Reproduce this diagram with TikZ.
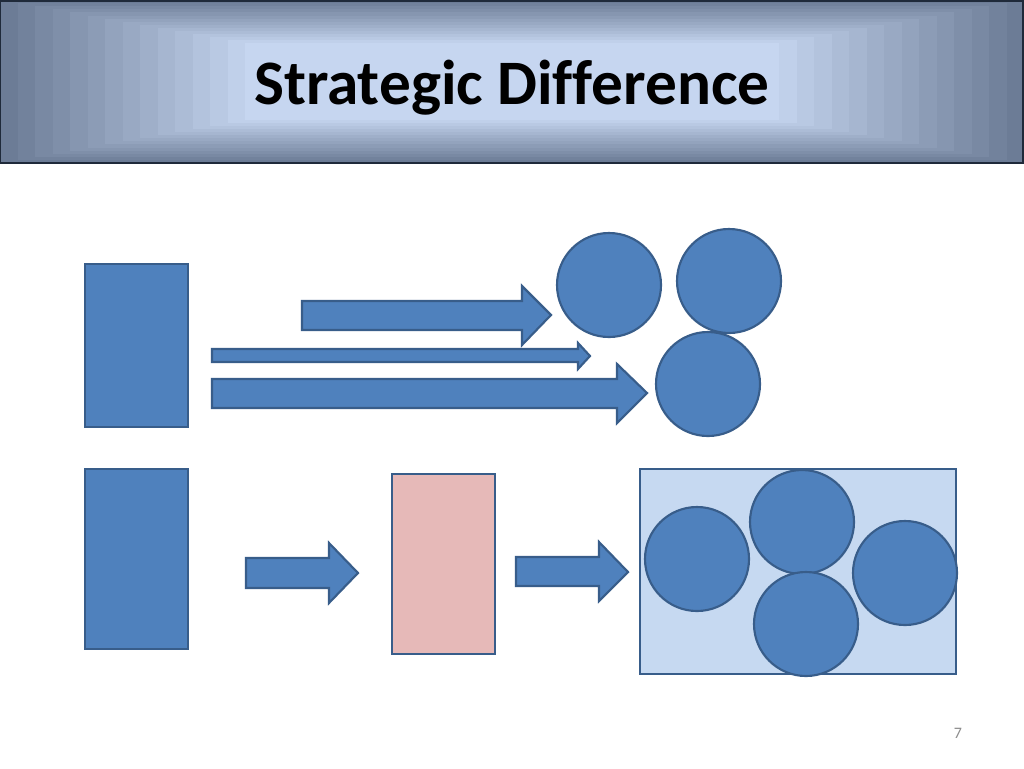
\documentclass[tikz,border=0pt]{standalone}
\usepackage{fontspec}
\setmainfont{Carlito}[Ligatures=NoCommon]
\definecolor{bluefill}{HTML}{4F81BD}
\definecolor{blueline}{HTML}{385D8A}
\definecolor{pinkfill}{HTML}{E6B9B8}
\definecolor{paleblue}{HTML}{C6D9F1}
\definecolor{bardark}{HTML}{6C7C96}
\definecolor{barlight}{HTML}{C6D6F0}
\definecolor{barline}{HTML}{1F2A3A}
\definecolor{pagenum}{HTML}{8C8C8C}
\begin{document}
\begin{tikzpicture}[x=0.75pt,y=-0.75pt,
  shapebox/.style={draw=blueline,line width=1.6pt,fill=bluefill},
  pinkbox/.style={draw=blueline,line width=1.6pt,fill=pinkfill},
  framebox/.style={draw=blueline,line width=1.6pt,fill=paleblue},
  blob/.style={circle,draw=blueline,line width=1.6pt,fill=bluefill,minimum size=78pt,inner sep=0pt},
  blockarrow/.style={draw=blueline,line width=1.6pt,fill=bluefill,line join=miter},
  titletext/.style={font=\bfseries\fontsize{47.5}{52}\selectfont,text=black,inner sep=0pt},
  numtext/.style={font=\fontsize{12}{14}\selectfont,text=pagenum,inner sep=0pt}]
\useasboundingbox (0,0) rectangle (1024,768);
\fill[white] (0,0) rectangle (1024,768);
% title bar
\fill[bardark] (0,0) rectangle (1024,163);
\foreach \i in {1,...,14}{
  \pgfmathsetmacro{\p}{100*\i/14}
  \pgfmathsetmacro{\xi}{\i*17.5}
  \pgfmathsetmacro{\yi}{\i*3.1}
  \fill[barlight!\p!bardark] (\xi,\yi) rectangle (1024-\xi,163-\yi);
}
\draw[barline,line width=1.5pt] (0,1) rectangle (1023,163);
\node[titletext,anchor=base] (title) at (512,104) {Strategic Difference};
% top row
\draw[shapebox] (85,264) rectangle (188,427);
\node[blob] (c1) at (609,285) {};
\node[blob] (c2) at (729,281) {};
\node[blob] (c3) at (708,384) {};
\draw[blockarrow] (302,301) -- (522,301) -- (522,286) -- (551,315) -- (522,345) -- (522,330) -- (302,330) -- cycle;
\draw[blockarrow] (212,349) -- (578,349) -- (578,343) -- (590,356) -- (578,369) -- (578,362) -- (212,362) -- cycle;
\draw[blockarrow] (212,379) -- (617,379) -- (617,364) -- (647,393) -- (617,423) -- (617,408) -- (212,408) -- cycle;
% bottom row
\draw[shapebox] (85,469) rectangle (188,649);
\draw[blockarrow] (246,558) -- (329,558) -- (329,543) -- (358,573) -- (329,603) -- (329,588) -- (246,588) -- cycle;
\draw[pinkbox] (392,474) rectangle (495,654);
\draw[blockarrow] (516,557) -- (599,557) -- (599,542) -- (628,572) -- (599,601) -- (599,586) -- (516,586) -- cycle;
\draw[framebox] (640,469) rectangle (956,674);
\node[blob] (c4) at (697,559) {};
\node[blob] (c5) at (802,522) {};
\node[blob] (c6) at (905,573) {};
\node[blob] (c7) at (806,624) {};
\node[numtext] (num) at (958,733) {7};
\end{tikzpicture}
\end{document}
